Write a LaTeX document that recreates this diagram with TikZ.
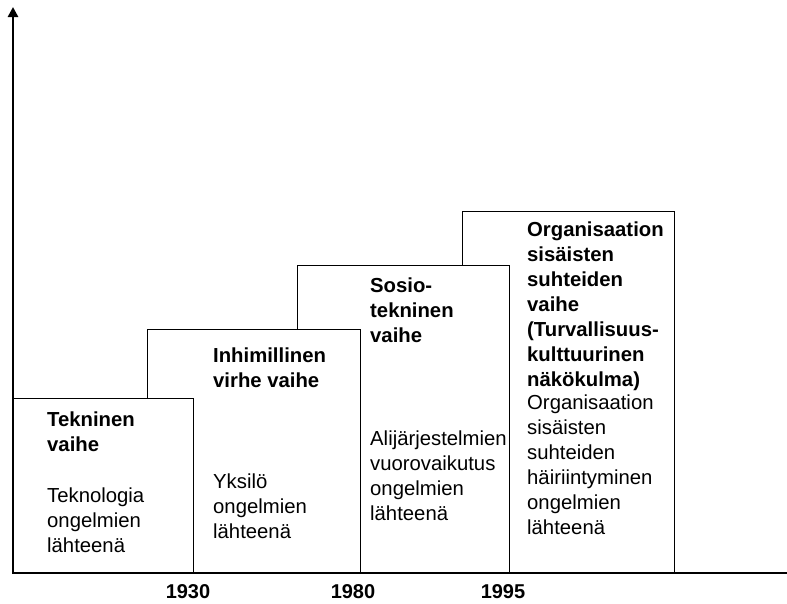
\documentclass[tikz,border=0pt]{standalone}
\usepackage{fontspec}
\setmainfont{Liberation Sans}
\usetikzlibrary{arrows.meta}
\begin{document}
\begin{tikzpicture}[x=1pt,y=-1pt,
  phase/.style={draw=black, line width=1.4pt, fill=white, inner sep=0pt, anchor=south west},
  axis/.style={line width=2.6pt, -{Triangle[length=10pt,width=10pt]}},
  txt/.style={anchor=north west, inner sep=0pt, align=left,
    font=\fontsize{20.3}{25}\selectfont},
  ttl/.style={txt, font=\fontsize{20.3}{25}\selectfont\bfseries},
  year/.style={anchor=base, inner sep=0pt, font=\fontsize{20}{22}\selectfont\bfseries}]
  \useasboundingbox (0,0) rectangle (787,603);

  % phase boxes, the later phases lie behind the earlier ones
  \node[phase, minimum width=212pt, minimum height=361pt] (b4) at (462,573) {};
  \node[phase, minimum width=212pt, minimum height=307pt] (b3) at (297,573) {};
  \node[phase, minimum width=213pt, minimum height=243pt] (b2) at (147,573) {};
  \node[phase, minimum width=180pt, minimum height=174pt] (b1) at (13,573) {};

  % axes
  \coordinate (O) at (13,573);
  \coordinate (ytip) at (13,7);
  \coordinate (xtip) at (797,573);
  \draw[axis] (O) -- (ytip);
  \draw[axis] (12,573) -- (xtip);

  % texts of the phases
  \node[ttl] (t1) at (47,411.4) {Tekninen\\vaihe};
  \node[txt] (d1) at (47,487.4) {Teknologia\\ongelmien\\lähteenä};

  \node[ttl] (t2) at (213,347.4) {Inhimillinen\\virhe vaihe};
  \node[txt] (d2) at (213,473.4) {Yksilö\\ongelmien\\lähteenä};

  \node[ttl] (t3) at (370,277.4) {Sosio-\\tekninen\\vaihe};
  \node[txt] (d3) at (370,430.4) {Alijärjestelmien\\vuorovaikutus\\ongelmien\\lähteenä};

  \node[ttl] (t4) at (527,221.4) {Organisaation\\sisäisten\\suhteiden\\vaihe\\(Turvallisuus-\\kulttuurinen\\näkökulma)};
  \node[txt] (d4) at (527,394.4) {Organisaation\\sisäisten\\suhteiden\\häiriintyminen\\ongelmien\\lähteenä};

  % years on the time axis
  \node[year] (y1) at (188,598) {1930};
  \node[year] (y2) at (353,598) {1980};
  \node[year] (y3) at (503,598) {1995};
\end{tikzpicture}
\end{document}
